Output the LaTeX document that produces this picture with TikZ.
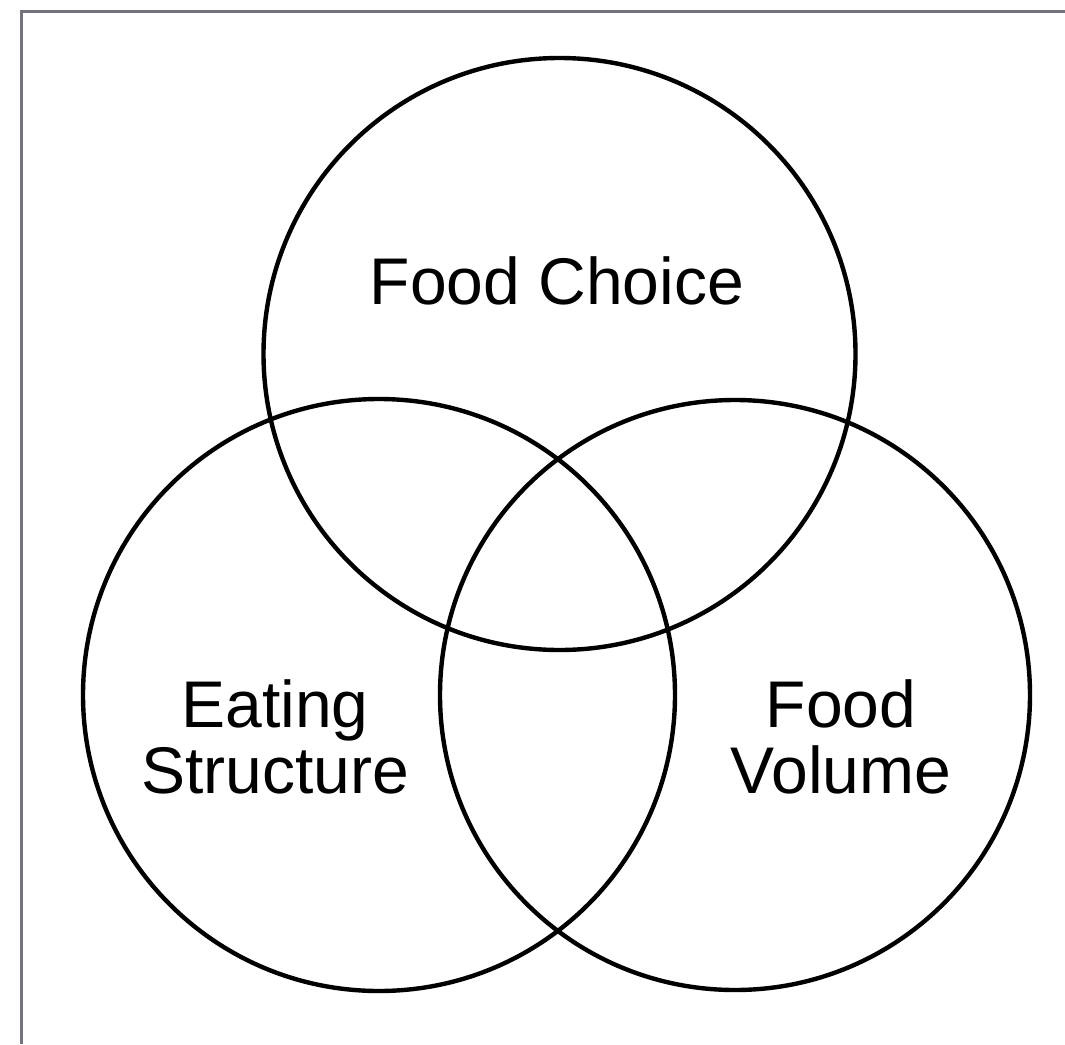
\documentclass[tikz,border=0pt]{standalone}
\usepackage{fontspec}
\setmainfont{Liberation Sans}
\begin{document}
\begin{tikzpicture}[x=1pt,y=-1pt,
  ring/.style={draw=black,line width=4.4pt},
  frameline/.style={draw={rgb,255:red,115;green,115;blue,125},line width=3pt},
  label/.style={font=\fontsize{66}{66}\selectfont,align=center,inner sep=0pt,anchor=base}]
  \useasboundingbox (0,0) rectangle (1065,1044);
  \fill[white] (0,0) rectangle (1065,1044);
  % outer frame (top and left edges)
  \coordinate (fl) at (21,1044);
  \coordinate (ft) at (21,11);
  \coordinate (fr) at (1065,11);
  \draw[frameline] (fl) -- (ft) -- (fr);
  % the three sets
  \node[ring,circle,minimum size=592pt,inner sep=0pt] (choice) at (559.5,354) {};
  \node[ring,circle,minimum size=592pt,inner sep=0pt] (eating) at (379,695) {};
  \node[ring,circle,minimum size=590pt,inner sep=0pt] (volume) at (735,695) {};
  % labels
  \node[label] (lchoice) at (557,304) {Food Choice};
  \node[label] (leat1) at (275,727) {Eating};
  \node[label] (leat2) at (275,793) {Structure};
  \node[label] (lvol1) at (841,727) {Food};
  \node[label] (lvol2) at (841,793) {Volume};
\end{tikzpicture}
\end{document}
